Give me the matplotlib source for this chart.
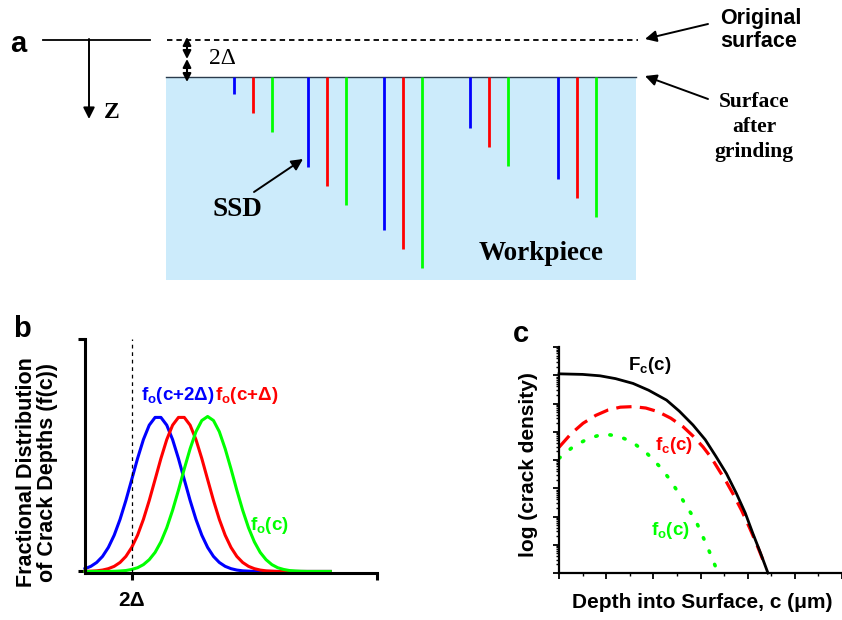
import numpy as np
import matplotlib
matplotlib.use('Agg')
import matplotlib.pyplot as plt
from matplotlib.patches import Rectangle
from matplotlib.ticker import LogLocator, NullFormatter, MultipleLocator

plt.rcParams['font.family'] = 'Liberation Sans'
plt.rcParams['mathtext.fontset'] = 'custom'
plt.rcParams['mathtext.rm'] = 'Liberation Sans'
plt.rcParams['mathtext.bf'] = 'Liberation Sans:bold'

BLUE, RED, GREEN = '#0000FF', '#FF0000', '#00FF00'
SERIF = 'Liberation Serif'

# ---- panel a : crack positions / depths (pixels in the sketch) ----
crack_x     = [234, 253, 272, 308, 327, 346, 384, 403, 422, 470, 489, 508, 558, 577, 596]
crack_end   = [94, 113, 132, 167, 186, 205, 230, 249, 268, 128, 147, 166, 179, 198, 217]
crack_color = [BLUE, RED, GREEN] * 5

# ---- panel b : distributions of crack depths ----
depth_b = [0, 2, 4, 6, 8, 10, 12, 14, 16, 18, 20, 22, 24, 26, 28, 30, 32, 34, 36, 38, 40, 42,
           44, 46, 48, 50, 52, 54, 56, 58, 60, 62, 64, 66, 68, 70, 72, 74, 76, 78, 80, 82, 84]
f_2d = [0.018, 0.033, 0.058, 0.097, 0.155, 0.234, 0.336, 0.458, 0.593, 0.729, 0.851, 0.944, 0.994,
        0.994, 0.944, 0.851, 0.729, 0.593, 0.458, 0.336, 0.234, 0.155, 0.097, 0.058, 0.033, 0.018,
        0.009, 0.004, 0.002, 0, 0, 0, 0, 0, 0, 0, 0, 0, 0, 0, 0, 0, 0]
f_1d = [0.001, 0.002, 0.004, 0.009, 0.018, 0.033, 0.058, 0.097, 0.155, 0.234, 0.336, 0.458, 0.593,
        0.729, 0.851, 0.944, 0.994, 0.994, 0.944, 0.851, 0.729, 0.593, 0.458, 0.336, 0.234, 0.155,
        0.097, 0.058, 0.033, 0.018, 0.009, 0.004, 0.002, 0, 0, 0, 0, 0, 0, 0, 0, 0, 0]
f_0 = [0, 0, 0, 0, 0, 0.001, 0.003, 0.006, 0.013, 0.024, 0.044, 0.076, 0.123, 0.191, 0.282, 0.395,
       0.524, 0.662, 0.792, 0.902, 0.974, 1.0, 0.974, 0.902, 0.792, 0.662, 0.524, 0.395, 0.282,
       0.191, 0.123, 0.076, 0.044, 0.024, 0.013, 0.006, 0.003, 0.001, 0, 0, 0, 0, 0]
two_delta = 16

# ---- panel c : log crack density (decades) ----
Fc_x = [0, 0.5, 0.87, 1.2, 1.57, 1.9, 2.28, 2.55, 2.84, 3.1, 3.33, 3.55, 3.76, 3.95, 4.11, 4.27, 4.43]
Fc_y = [7.05, 7.03, 6.98, 6.88, 6.71, 6.47, 6.12, 5.73, 5.24, 4.72, 4.12, 3.52, 2.82, 2.12, 1.40, 0.72, 0.0]
fc_x = [0, 0.25, 0.51, 0.78, 1.04, 1.3, 1.57, 1.84, 2.10, 2.37, 2.63, 2.84, 3.05, 3.23, 3.40, 3.55, 3.69, 3.87, 4.04, 4.2, 4.35]
fc_y = [4.45, 4.92, 5.30, 5.58, 5.77, 5.87, 5.89, 5.84, 5.71, 5.48, 5.18, 4.85, 4.47, 4.08, 3.62, 3.22, 2.80, 2.22, 1.60, 0.98, 0.35]
fo_x = [0, 0.30, 0.62, 0.94, 1.25, 1.54, 1.85, 2.14, 2.36, 2.56, 2.73, 2.90, 3.05, 3.19, 3.32]
fo_y = [4.06, 4.47, 4.76, 4.92, 4.85, 4.65, 4.26, 3.76, 3.29, 2.76, 2.29, 1.85, 1.29, 0.75, 0.22]

fig = plt.figure(figsize=(8.42, 6.2), dpi=100)

# sketch layer in pixel coordinates
ax_a = fig.add_axes([0, 0, 1, 1])
ax_a.set_xlim(0, 842)
ax_a.set_ylim(620, 0)
ax_a.axis('off')

ax_a.add_patch(Rectangle((166, 77), 470, 203, facecolor='#CCEBFB', edgecolor='none'))
ax_a.plot([166, 636], [77, 77], color='#2a3b4c', lw=1.0)
ax_a.plot([43, 150], [40, 40], color='k', lw=1.3)
ax_a.plot([167, 638], [40, 40], color='k', lw=1.3, dashes=(3, 2.2))
for x, e, c in zip(crack_x, crack_end, crack_color):
    ax_a.plot([x, x], [77, e], color=c, lw=2.0, solid_capstyle='butt')

arr = dict(arrowstyle='-|>', color='k', lw=1.4, mutation_scale=17, shrinkA=0, shrinkB=0)
ax_a.annotate('', xy=(89, 119), xytext=(89, 39), arrowprops=arr)
ax_a.annotate('', xy=(645, 39), xytext=(708, 24), arrowprops=arr)
ax_a.annotate('', xy=(645, 76), xytext=(708, 99), arrowprops=arr)
ax_a.annotate('', xy=(303, 159), xytext=(254, 192), arrowprops=arr)
darr = dict(arrowstyle='<|-|>', color='k', lw=1.5, mutation_scale=12, shrinkA=0, shrinkB=0)
ax_a.annotate('', xy=(187, 37), xytext=(187, 59), arrowprops=darr)
ax_a.annotate('', xy=(187, 59), xytext=(187, 82), arrowprops=darr)

ax_a.text(18, 44, 'a', fontsize=21, fontweight='bold', ha='center', va='center')
ax_a.text(112, 113, 'Z', fontsize=17, fontweight='bold', family=SERIF, ha='center', va='center')
ax_a.text(222, 58, '2Δ', fontsize=17, family=SERIF, ha='center', va='center')
ax_a.text(237, 210, 'SSD', fontsize=19.5, fontweight='bold', family=SERIF, ha='center', va='center')
ax_a.text(541, 254, 'Workpiece', fontsize=19.5, fontweight='bold', family=SERIF, ha='center', va='center')
ax_a.text(720, 30, 'Original\nsurface', fontsize=15.5, fontweight='bold', ha='left', va='center',
          linespacing=1.1)
ax_a.text(754, 127, 'Surface\nafter\ngrinding', fontsize=15.5, fontweight='bold', family=SERIF,
          ha='center', va='center', linespacing=1.35)

# ---- panel b ----
ax_b = fig.add_axes([85 / 842, 47 / 620, 292 / 842, 234 / 620])
ax_b.set_facecolor('none')
ax_b.plot(depth_b, f_2d, color=BLUE, lw=2.2, clip_on=False)
ax_b.plot(depth_b, f_1d, color=RED, lw=2.2, clip_on=False)
ax_b.plot(depth_b, f_0, color=GREEN, lw=2.2, clip_on=False)
ax_b.axvline(two_delta, color='k', lw=0.9, dashes=(3, 3))
ax_b.set_xlim(0, 100)
ax_b.set_ylim(-0.01, 1.5)
for s in ['top', 'right']:
    ax_b.spines[s].set_visible(False)
for s in ['left', 'bottom']:
    ax_b.spines[s].set_linewidth(2.2)
ax_b.set_xticks([two_delta, 100])
ax_b.set_xticklabels(['2Δ', ''], fontsize=15, fontweight='bold')
ax_b.set_yticks([0, 1.5])
ax_b.set_yticklabels([])
ax_b.tick_params(length=5, width=2.2, pad=8)
ax_b.text(31.8, 1.135, r'$\mathbf{f_o(c{+}2\Delta)}$', color=BLUE, fontsize=13.5, ha='center', va='center')
ax_b.text(55.5, 1.135, r'$\mathbf{f_o(c{+}\Delta)}$', color=RED, fontsize=13.5, ha='center', va='center')
ax_b.text(63, 0.295, r'$\mathbf{f_o(c)}$', color=GREEN, fontsize=13.5, ha='center', va='center')

fig.text(22 / 842, 1 - 329 / 620, 'b', fontsize=21, fontweight='bold', ha='center', va='center')
fig.text(37 / 842, 1 - 472 / 620, 'Fractional Distribution\nof Crack Depths (f(c))', fontsize=15.5,
         fontweight='bold', rotation=90, ha='center', va='center', multialignment='center',
         linespacing=1.0)

# ---- panel c ----
ax_c = fig.add_axes([559 / 842, 47 / 620, 283 / 842, 226 / 620])
ax_c.set_facecolor('none')
ax_c.set_yscale('log')
ax_c.plot(Fc_x, 10.0 ** np.array(Fc_y), color='k', lw=2.0, clip_on=False, zorder=3)
ax_c.plot(fc_x, 10.0 ** np.array(fc_y), color=RED, lw=2.3, dashes=(4.8, 2.6), zorder=2)
ax_c.plot(fo_x, 10.0 ** np.array(fo_y), color=GREEN, lw=2.6, dashes=(0.4, 3.6),
          dash_capstyle='round', zorder=2)
ax_c.set_xlim(0, 6)
ax_c.set_ylim(1, 1e8)
for s in ['top', 'right']:
    ax_c.spines[s].set_visible(False)
for s in ['left', 'bottom']:
    ax_c.spines[s].set_linewidth(1.6)
ax_c.xaxis.set_major_locator(MultipleLocator(1))
ax_c.xaxis.set_minor_locator(MultipleLocator(0.5))
ax_c.yaxis.set_major_locator(LogLocator(base=10, numticks=20))
ax_c.yaxis.set_minor_locator(LogLocator(base=10, subs=np.arange(2, 10), numticks=100))
ax_c.xaxis.set_major_formatter(NullFormatter())
ax_c.yaxis.set_major_formatter(NullFormatter())
ax_c.yaxis.set_minor_formatter(NullFormatter())
ax_c.tick_params(which='major', length=4, width=1.3)
ax_c.tick_params(which='minor', length=2.5, width=1.0)
ax_c.text(1.93, 10 ** 7.36, r'$\mathbf{F_c(c)}$', color='k', fontsize=13.5, ha='center', va='center')
ax_c.text(2.44, 10 ** 4.5, r'$\mathbf{f_c(c)}$', color=RED, fontsize=13.5, ha='center', va='center')
ax_c.text(2.37, 10 ** 1.49, r'$\mathbf{f_o(c)}$', color=GREEN, fontsize=13.5, ha='center', va='center')

fig.text(521 / 842, 1 - 334 / 620, 'c', fontsize=21, fontweight='bold', ha='center', va='center')
fig.text(528 / 842, 1 - 465 / 620, 'log (crack density)', fontsize=15, fontweight='bold',
         rotation=90, ha='center', va='center')
fig.text(702 / 842, 1 - 603 / 620, 'Depth into Surface, c (μm)', fontsize=15, fontweight='bold',
         ha='center', va='center')

fig.savefig('out.png', dpi=100)
